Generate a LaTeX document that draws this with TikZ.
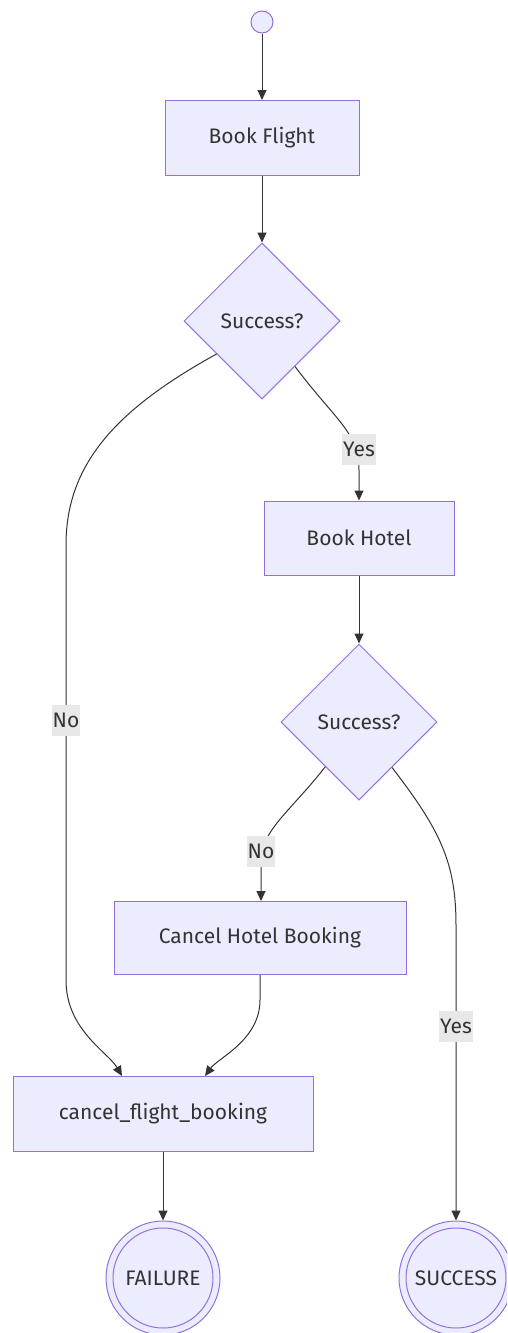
\documentclass[tikz,border=0pt]{standalone}
\usepackage{fontspec}
\setmainfont{Fira Sans}
\usetikzlibrary{shapes.geometric,arrows.meta,calc}
\definecolor{lav}{HTML}{ECECFF}
\definecolor{pur}{HTML}{9370DB}
\definecolor{ink}{HTML}{333333}
\definecolor{lblbg}{HTML}{E8E8E8}
\begin{document}
\begin{tikzpicture}[x=1pt,y=-1pt,
  font=\fontsize{21}{25}\selectfont,
  box/.style={draw=pur,fill=lav,line width=1pt,rectangle,inner sep=0pt,text=ink},
  dec/.style={draw=pur,fill=lav,line width=1pt,diamond,aspect=1,inner sep=0pt,minimum width=156pt,minimum height=156pt,text=ink},
  startst/.style={draw=pur,fill=lav,line width=1pt,circle,inner sep=0pt,minimum size=22pt},
  finalst/.style={draw=pur,fill=lav,line width=1pt,circle,inner sep=0pt,minimum size=114pt,text=ink},
  edge/.style={draw=ink,line width=1pt,-{Triangle[length=10pt,width=9pt]}},
  lbl/.style={fill=lblbg,text=ink,inner xsep=1pt,inner ysep=0pt,minimum height=31pt}]
\useasboundingbox (0,0) rectangle (507,1333);
\clip (0,0) rectangle (507,1333);

\node[startst] (start) at (262,22) {};
\node[box,minimum width=194pt,minimum height=75pt] (bf) at (262,138) {Book Flight};
\node[dec] (d1) at (262,321) {Success?};
\node[box,minimum width=190pt,minimum height=74pt] (bh) at (359,538) {Book Hotel};
\node[dec] (d2) at (359,722) {Success?};
\node[box,minimum width=292pt,minimum height=73pt] (chb) at (260,938) {Cancel Hotel Booking};
\node[box,minimum width=300pt,minimum height=75pt] (cfb) at (163,1114) {cancel\_flight\_booking};
\node[finalst] (fail) at (163,1278) {FAILURE};
\draw[pur,line width=1pt] (fail.center) circle (50);
\node[finalst] (succ) at (456,1278) {SUCCESS};
\draw[pur,line width=1pt] (succ.center) circle (50);

\draw[edge] (start) -- (bf);
\draw[edge] (bf) -- (d1);
\draw[edge] (d1.306) .. controls (335,420) and (359,432) .. (359,470) -- (bh.north);
\draw[edge] (bh) -- (d2);
\draw[edge] (d2.233) .. controls (290,812) and (261,830) .. (261,862) -- ([xshift=1pt]chb.north);
\draw[edge] (d2.306) .. controls (440,830) and (456,862) .. (456,925) -- (succ.north);
\draw[edge] (d1.216) .. controls (115,410) and (66,465) .. (66,545) -- (66,980) .. controls (66,1030) and (108,1052) .. ([xshift=-41pt]cfb.north);
\draw[edge] (chb.south) -- (260,1000) .. controls (260,1040) and (218,1058) .. ([xshift=42pt]cfb.north);
\draw[edge] (cfb) -- (fail);

\node[lbl] (l1) at (359,449) {Yes};
\node[lbl] (l2) at (66,720) {No};
\node[lbl] (l3) at (261,851) {No};
\node[lbl] (l4) at (456,1026) {Yes};
\end{tikzpicture}
\end{document}
